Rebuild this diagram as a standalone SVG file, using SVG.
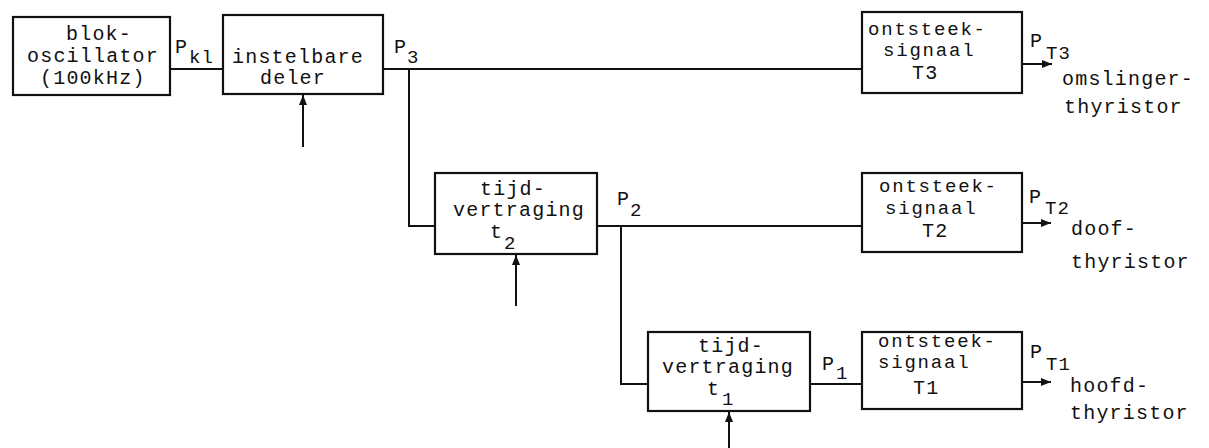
<svg xmlns="http://www.w3.org/2000/svg" width="1209" height="448" viewBox="0 0 1209 448">
<defs>
<marker id="ah" viewBox="0 0 10 10" refX="10" refY="5" markerWidth="10" markerHeight="10" markerUnits="userSpaceOnUse" orient="auto">
<path d="M0,1 L10,5 L0,9 Z" fill="#111"/>
</marker>
</defs>
<style>
.box{fill:#fff;stroke:#111;stroke-width:2.2}
.ln{fill:none;stroke:#111;stroke-width:2}
.ar{fill:none;stroke:#111;stroke-width:2;marker-end:url(#ah)}
text{font-family:"Liberation Mono","DejaVu Sans Mono",monospace;font-size:20px;letter-spacing:1.2px;fill:#111}
.sub{font-size:19px}
.tight{font-size:19px;letter-spacing:1.8px}
</style>
<rect width="1209" height="448" fill="#fff"/>
<g id="connectors">
<line class="ln" x1="170" y1="69" x2="223" y2="69"/>
<line class="ln" x1="383" y1="69" x2="862" y2="69"/>
<polyline class="ln" points="409,69 409,226 435,226"/>
<line class="ln" x1="597" y1="226" x2="862" y2="226"/>
<polyline class="ln" points="621,226 621,384 648,384"/>
<line class="ln" x1="810" y1="384" x2="862" y2="384"/>
<line class="ar" x1="303" y1="147" x2="303" y2="95"/>
<line class="ar" x1="516" y1="306" x2="516" y2="255"/>
<line class="ar" x1="729" y1="448" x2="729" y2="412"/>
<line class="ar" x1="1022" y1="64" x2="1052" y2="64"/>
<line class="ar" x1="1022" y1="223" x2="1051" y2="223"/>
<line class="ar" x1="1022" y1="382" x2="1051" y2="382"/>
</g>
<g id="blokoscillator">
<rect class="box" x="13" y="17" width="157" height="78"/>
<text x="66" y="40">blok-</text>
<text x="27" y="62">oscillator</text>
<text x="40" y="84">(100kHz)</text>
</g>
<g id="label-pkl">
<text x="175" y="53">P</text><text class="sub" x="189" y="63">kl</text>
</g>
<g id="instelbare-deler">
<rect class="box" x="223" y="15" width="160" height="79"/>
<text x="232" y="63">instelbare</text>
<text x="260" y="84">deler</text>
</g>
<g id="label-p3">
<text x="394" y="53">P</text><text class="sub" x="407" y="63">3</text>
</g>
<g id="ontsteek-T3">
<rect class="box" x="862" y="12" width="160" height="81"/>
<text class="tight" x="868" y="35">ontsteek-</text>
<text class="tight" x="883" y="56">signaal</text>
<text x="912" y="79">T3</text>
</g>
<g id="out-T3">
<text x="1030" y="47">P</text><text class="sub" x="1046" y="59">T3</text>
<text x="1062" y="85">omslinger-</text>
<text x="1064" y="113">thyristor</text>
</g>
<g id="tijdvertraging-t2">
<rect class="box" x="435" y="173" width="162" height="81"/>
<text x="480" y="195">tijd-</text>
<text x="453" y="216">vertraging</text>
<text x="490" y="238">t</text><text class="sub" x="504" y="249">2</text>
</g>
<g id="label-p2">
<text x="617" y="205">P</text><text class="sub" x="630" y="216">2</text>
</g>
<g id="ontsteek-T2">
<rect class="box" x="862" y="173" width="160" height="79"/>
<text class="tight" x="879" y="192">ontsteek-</text>
<text class="tight" x="885" y="214">signaal</text>
<text x="922" y="237">T2</text>
</g>
<g id="out-T2">
<text x="1029" y="203">P</text><text class="sub" x="1045" y="214">T2</text>
<text x="1071" y="235">doof-</text>
<text x="1071" y="268">thyristor</text>
</g>
<g id="tijdvertraging-t1">
<rect class="box" x="648" y="332" width="162" height="79"/>
<text x="698" y="352">tijd-</text>
<text x="662" y="373">vertraging</text>
<text x="707" y="395">t</text><text class="sub" x="722" y="405">1</text>
</g>
<g id="label-p1">
<text x="822" y="370">P</text><text class="sub" x="836" y="379">1</text>
</g>
<g id="ontsteek-T1">
<rect class="box" x="862" y="332" width="160" height="77"/>
<text class="tight" x="878" y="347">ontsteek-</text>
<text class="tight" x="878" y="368">signaal</text>
<text x="913" y="394">T1</text>
</g>
<g id="out-T1">
<text x="1030" y="358">P</text><text class="sub" x="1046" y="370">T1</text>
<text x="1070" y="392">hoofd-</text>
<text x="1070" y="419">thyristor</text>
</g>
</svg>
